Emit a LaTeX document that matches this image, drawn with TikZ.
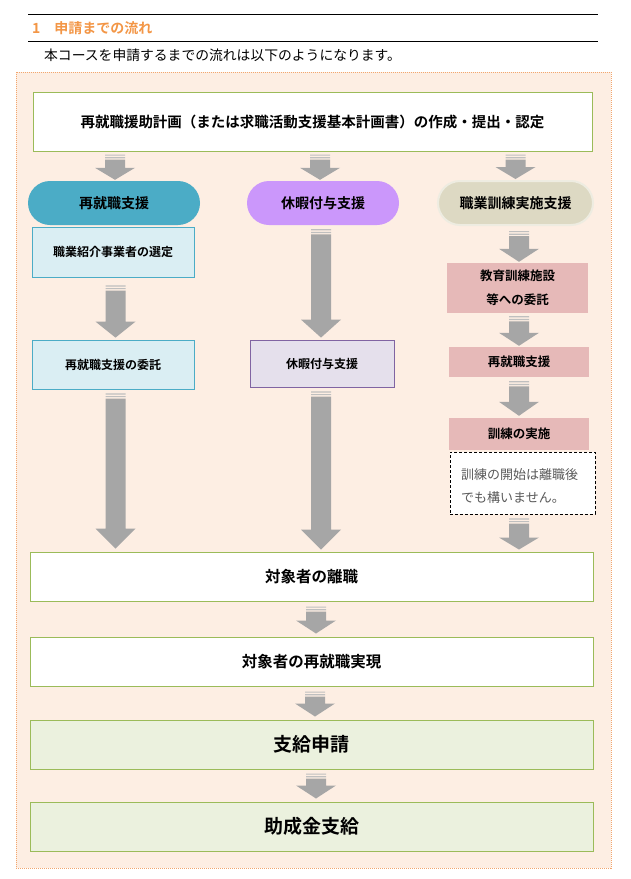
\documentclass[tikz,border=0pt]{standalone}
\usepackage{fontspec}
\setmainfont{Noto Sans CJK JP}[BoldFont={Noto Sans CJK JP Bold}]
\usetikzlibrary{calc}
\definecolor{bgpeach}{HTML}{FDEEE3}
\definecolor{dotorange}{HTML}{F2A66E}
\definecolor{headorange}{HTML}{F39646}
\definecolor{boxgreen}{HTML}{9BBB59}
\definecolor{lightgreen}{HTML}{EBF1DE}
\definecolor{teal}{HTML}{4BACC6}
\definecolor{lightteal}{HTML}{DAEEF3}
\definecolor{violet1}{HTML}{CB97FB}
\definecolor{violetbd}{HTML}{8064A2}
\definecolor{lightviolet}{HTML}{E5E0EC}
\definecolor{beige}{HTML}{DDD9C3}
\definecolor{beigeglow}{HTML}{EEECE1}
\definecolor{pink1}{HTML}{E6B9B8}
\definecolor{agray}{HTML}{A6A6A6}
\definecolor{sgray}{HTML}{BFBFBF}
\definecolor{notegray}{HTML}{595959}
\newcommand\barrow[3]{%
  \path #1 coordinate (ba1) #2 coordinate (ba2);
  \fill[sgray] let \p1=(ba1),\p2=(ba2) in
    (\x1-10pt,\y1) rectangle (\x1+10pt,\y1-1.2pt)
    (\x1-10pt,\y1-2.6pt) rectangle (\x1+10pt,\y1-3.8pt);
  \fill[agray] let \p1=(ba1),\p2=(ba2) in
    (\x1-10pt,\y1-5.2pt) rectangle (\x1+10pt,\y2+#3pt)
    (\x1-20pt,\y2+#3pt) -- (\x1+20pt,\y2+#3pt) -- (\x1,\y2) -- cycle;
}
\tikzset{
  bigbox/.style={draw=boxgreen, line width=1pt, fill=white, minimum width=563pt,
    minimum height=49pt, inner sep=0pt, font=\bfseries\fontsize{15.5}{18}\selectfont},
  greenbox/.style={bigbox, fill=lightgreen, font=\bfseries\fontsize{19}{22}\selectfont},
  pill/.style={rounded corners=22pt, minimum height=44pt, inner sep=0pt,
    font=\bfseries\fontsize{14}{16}\selectfont},
  tealbox/.style={draw=teal, line width=0.8pt, fill=lightteal, minimum width=162pt,
    inner sep=0pt, font=\bfseries\fontsize{12}{14}\selectfont},
  violetbox/.style={draw=violetbd, line width=0.8pt, fill=lightviolet, minimum width=144pt,
    inner sep=0pt, font=\bfseries\fontsize{12}{14}\selectfont},
  pinkbox/.style={fill=pink1, minimum width=141pt, inner sep=0pt,
    font=\bfseries\fontsize{12.5}{14}\selectfont},
  notebox/.style={draw=black, densely dashed, line width=0.8pt, fill=white,
    minimum width=145pt, minimum height=62pt, inner sep=0pt}
}
\begin{document}
\begin{tikzpicture}[x=1pt,y=-1pt]
\useasboundingbox (0,0) rectangle (631,879);
\fill[white] (0,0) rectangle (631,879);
% header
\draw[line width=0.9pt] (28,14) -- (598,14);
\node[anchor=west, inner sep=0pt, text=headorange, font=\bfseries\fontsize{14}{16}\selectfont] (head) at (32,28) {1　申請までの流れ};
\draw[line width=0.9pt] (28,41) -- (598,41);
\node[anchor=west, inner sep=0pt, font=\fontsize{13.8}{16}\selectfont] (sub) at (44,55) {本コースを申請するまでの流れは以下のようになります。};
% outer frame
\draw[dotorange, fill=bgpeach, densely dotted, line width=1pt] (16,72) rectangle (611,868);
% top box
\node[bigbox, minimum width=559pt, minimum height=59pt, font=\bfseries\fontsize{14.5}{17}\selectfont] (top) at (312.5,121.5)
  {再就職援助計画（または求職活動支援基本計画書）の作成・提出・認定};
% pills
\node[pill, fill=teal, minimum width=172pt] (p1) at (114,203) {再就職支援};
\node[pill, fill=violet1, minimum width=152pt] (p2) at (323,203) {休暇付与支援};
\node[pill, fill=beige, draw=beigeglow, line width=2pt, minimum width=155pt] (p3) at (515.5,203) {職業訓練実施支援};
% left column
\node[tealbox, minimum height=50pt] (l1) at (113,252) {職業紹介事業者の選定};
\node[tealbox, minimum height=49pt] (l2) at (113,364.5) {再就職支援の委託};
% middle column
\node[violetbox, minimum height=47pt] (m1) at (322,363.5) {休暇付与支援};
% right column
\node[pinkbox, minimum height=50pt, align=center, font=\bfseries\fontsize{12.5}{24}\selectfont] (r1) at (517.5,288) {教育訓練施設\\等への委託};
\node[pinkbox, minimum width=140pt, minimum height=30pt] (r2) at (519,362) {再就職支援};
\node[pinkbox, minimum width=140pt, minimum height=32pt] (r3) at (519,434) {訓練の実施};
\node[notebox] (note) at (522.5,483) {};
\node[anchor=west, align=left, inner sep=0pt, text=notegray, font=\fontsize{13}{23}\selectfont] (notetxt) at (461,486.5)
  {訓練の開始は離職後\\でも構いません。};
% bottom boxes
\node[bigbox] (b1) at (311.5,576.5) {対象者の離職};
\node[bigbox] (b2) at (311.5,661.5) {対象者の再就職実現};
\node[greenbox] (b3) at (311.5,744.5) {支給申請};
\node[greenbox] (b4) at (311.5,826.5) {助成金支給};
% arrows
\barrow{($(top.south -| p1.north)+(1,3)$)}{($(p1.north)+(1,-1)$)}{12}
\barrow{($(top.south -| p2.north)+(-3,3)$)}{($(p2.north)+(-3,-1)$)}{12}
\barrow{($(top.south -| p3.north)+(0,3)$)}{($(p3.north)+(0,-1)$)}{12}
\barrow{($(l1.south)+(2.5,8)$)}{($(l2.north)+(2.5,-2)$)}{16}
\barrow{($(l2.south)+(2.5,4)$)}{($(b1.north -| l2.north)+(2.5,-3)$)}{20}
\barrow{($(p2.south)+(-2,4)$)}{($(m1.north)+(-1,-2)$)}{18}
\barrow{($(m1.south)+(-1,4)$)}{($(b1.north -| m1.north)+(-1,-2)$)}{20}
\barrow{($(p3.south)+(3.5,5)$)}{($(r1.north)+(1.5,-1)$)}{13}
\barrow{($(r1.south)+(1.5,3)$)}{($(r2.north)+(0,-1)$)}{13}
\barrow{($(r2.south)+(0,4)$)}{($(r3.north)+(0,-2)$)}{14}
\barrow{($(note.south)+(-3.5,4)$)}{($(b1.north -| note.south)+(-3.5,-2)$)}{12}
\barrow{($(b1.south)+(4.5,5)$)}{($(b2.north)+(4.5,-3)$)}{13}
\barrow{($(b2.south)+(3.5,5)$)}{($(b3.north)+(3.5,-3)$)}{13}
\barrow{($(b3.south)+(4.5,4)$)}{($(b4.north)+(4.5,-3)$)}{13}
\end{tikzpicture}
\end{document}
